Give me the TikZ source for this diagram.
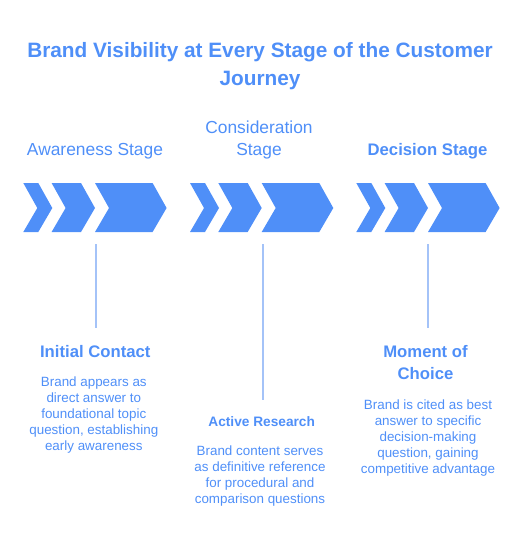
\documentclass[tikz,border=0pt]{standalone}
\usepackage{fontspec}
\setmainfont{Liberation Sans}
\usetikzlibrary{positioning}
\definecolor{brandblue}{HTML}{4F8FF8}
\definecolor{stemblue}{HTML}{A4C3F8}
\begin{document}
\begin{tikzpicture}[
    x=1pt, y=-1pt,
    chev/.style={fill=brandblue, draw=none},
    stem/.style={draw=stemblue, line width=2pt},
    titlelbl/.style={text=brandblue, font=\bfseries\fontsize{20.8}{28}\selectfont, align=center, inner sep=0pt, anchor=base},
    stagelbl/.style={text=brandblue, font=\fontsize{17.4}{22}\selectfont, align=center, inner sep=0pt, anchor=base},
    headlbl/.style={text=brandblue, font=\bfseries\fontsize{16.7}{22}\selectfont, align=center, inner sep=0pt, anchor=base},
    desclbl/.style={text=brandblue, font=\fontsize{13.4}{16}\selectfont, align=center, inner sep=0pt, anchor=base}
]
\useasboundingbox (0,0) rectangle (528,551);
% base of a multi-line node = baseline of its last line
\node[titlelbl] (title) at (260,85.7) {Brand Visibility at Every Stage of the Customer\\Journey};
% Chevrons
\foreach \gx in {23.3, 190, 356.3} {
    \foreach \a/\b in {0/15, 28.3/57.7, 71.7/129.3} {
        \fill[chev] (\gx+\a,183) -- (\gx+\b,183) -- (\gx+\b+14,208) -- (\gx+\b,232)
            -- (\gx+\a,232) -- (\gx+\a+14,208) -- cycle;
    }
}
% Stage names
\node[stagelbl] (awareness) at (95,155) {Awareness Stage};
\node[stagelbl] (consideration) at (259,155) {Consideration\\Stage};
\node[stagelbl, font=\bfseries\fontsize{16.7}{22}\selectfont] (decision) at (427.5,155) {Decision Stage};
% Stems
\coordinate (aw-top) at (95.5,244);
\coordinate (aw-bot) at (95.5,328);
\coordinate (co-top) at (263,244);
\coordinate (co-bot) at (263,400);
\coordinate (de-top) at (428,244);
\coordinate (de-bot) at (428,328);
\draw[stem] (aw-top) -- (aw-bot);
\draw[stem] (co-top) -- (co-bot);
\draw[stem] (de-top) -- (de-bot);
% Moments
\node[headlbl] (contact) at (95.3,357.3) {Initial Contact};
\node[desclbl] (contact-txt) at (93.8,450.7) {Brand appears as\\direct answer to\\foundational topic\\question, establishing\\early awareness};
\node[headlbl, font=\bfseries\fontsize{13.7}{18}\selectfont] (research) at (261.7,426) {Active Research};
\node[desclbl] (research-txt) at (260,503) {Brand content serves\\as definitive reference\\for procedural and\\comparison questions};
\node[headlbl] (choice) at (425.5,379.3) {Moment of\\Choice};
\node[desclbl] (choice-txt) at (428,473) {Brand is cited as best\\answer to specific\\decision-making\\question, gaining\\competitive advantage};
\end{tikzpicture}
\end{document}
